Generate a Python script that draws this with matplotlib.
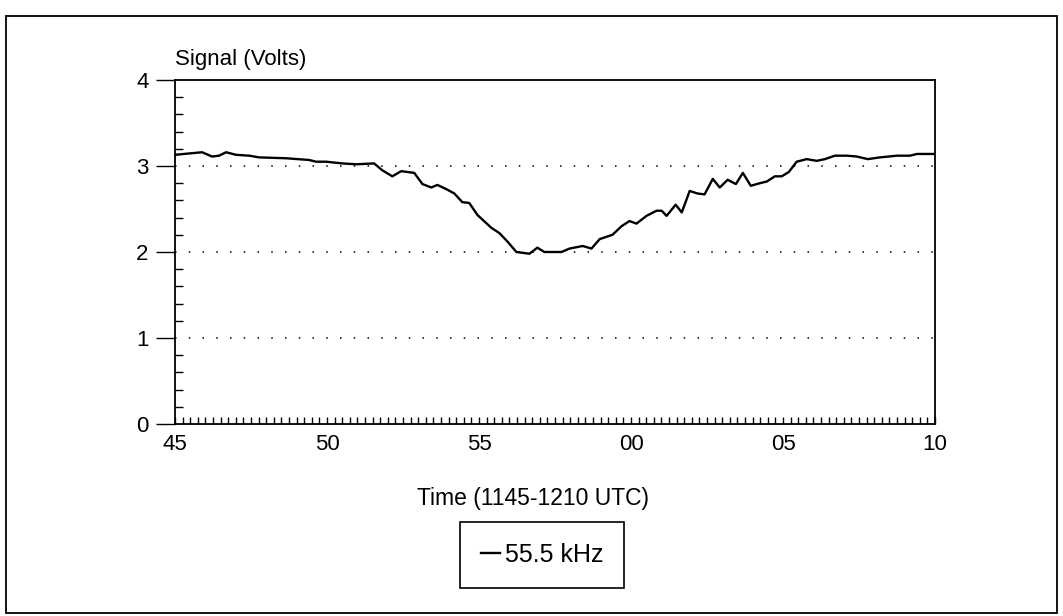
import matplotlib
matplotlib.use("Agg")
import matplotlib.pyplot as plt
from matplotlib.patches import Rectangle
from matplotlib.ticker import MultipleLocator, FixedLocator

# minutes after 11:00 UTC
time_min = [45.0, 45.89, 46.22, 46.45, 46.68, 47.01, 47.44, 47.77, 48.66, 49.41,
            49.64, 49.97, 50.50, 50.96, 51.55, 51.82, 52.15, 52.44, 52.87, 53.14,
            53.43, 53.63, 53.93, 54.19, 54.45, 54.68, 54.95, 55.41, 55.67, 55.94,
            56.23, 56.66, 56.92, 57.15, 57.71, 57.98, 58.41, 58.70, 58.97, 59.39,
            59.69, 59.95, 60.18, 60.51, 60.84, 61.01, 61.17, 61.47, 61.67, 61.93,
            62.19, 62.42, 62.69, 62.92, 63.18, 63.45, 63.68, 63.94, 64.24, 64.47,
            64.73, 64.96, 65.19, 65.45, 65.78, 66.11, 66.38, 66.71, 67.10, 67.43,
            67.79, 68.19, 68.75, 69.18, 69.41, 70.0]
signal_v = [3.13, 3.16, 3.11, 3.12, 3.16, 3.13, 3.12, 3.10, 3.09, 3.07,
            3.05, 3.05, 3.03, 3.02, 3.03, 2.95, 2.88, 2.94, 2.92, 2.79,
            2.75, 2.78, 2.73, 2.68, 2.58, 2.57, 2.43, 2.28, 2.22, 2.12,
            2.00, 1.98, 2.05, 2.00, 2.00, 2.04, 2.07, 2.04, 2.15, 2.20,
            2.30, 2.36, 2.33, 2.42, 2.48, 2.48, 2.42, 2.55, 2.46, 2.71,
            2.68, 2.67, 2.85, 2.75, 2.84, 2.79, 2.92, 2.77, 2.80, 2.82,
            2.88, 2.88, 2.93, 3.05, 3.08, 3.06, 3.08, 3.12, 3.12, 3.11,
            3.08, 3.10, 3.12, 3.12, 3.14, 3.14]

x_ticks = [45, 50, 55, 60, 65, 70]
x_tick_labels = ["45", "50", "55", "00", "05", "10"]
y_ticks = [0, 1, 2, 3, 4]
grid_levels = [1, 2, 3]
series_label = "55.5 kHz"

plt.rcParams['font.family'] = ['Liberation Sans', 'DejaVu Sans']
FS = 16

fig = plt.figure(figsize=(10.63, 6.16), dpi=100)
ax = fig.add_axes([175/1063, 1-424/616, 760/1063, 344/616])

for g in grid_levels:
    ax.axhline(g, color='black', lw=1.1, linestyle=(0, (1, 8)), zorder=1)

ax.plot(time_min, signal_v, color='black', lw=1.7, label=series_label, zorder=3)

ax.set_xlim(45, 70)
ax.set_ylim(0, 4)
ax.xaxis.set_major_locator(FixedLocator(x_ticks))
ax.set_xticklabels(x_tick_labels)
ax.xaxis.set_minor_locator(MultipleLocator(0.25))
ax.yaxis.set_major_locator(FixedLocator(y_ticks))
ax.yaxis.set_minor_locator(MultipleLocator(0.2))

ax.tick_params(axis='y', which='major', direction='out', length=14, width=1,
               labelsize=FS, pad=5)
ax.tick_params(axis='y', which='minor', direction='in', length=6, width=1)
ax.tick_params(axis='x', which='major', direction='in', length=5, width=1,
               labelsize=FS, pad=7)
ax.tick_params(axis='x', which='minor', direction='in', length=5, width=1)
for s in ax.spines.values():
    s.set_linewidth(1.3)

fig.text(533/1063, 1-498/616, "Time (1145-1210 UTC)", fontsize=16.5,
         ha='center', va='center')
fig.text(175/1063, 1-60/616, "Signal (Volts)", fontsize=FS, ha='left', va='center')

leg = fig.legend(loc='center', bbox_to_anchor=(542/1063, 1-555/616), fontsize=18,
                 handlelength=0.75, handletextpad=0.2, borderpad=0.85,
                 borderaxespad=0, fancybox=False, framealpha=1, edgecolor='black')
leg.get_frame().set_linewidth(1.2)

fig.patches.append(Rectangle((6/1063, 1-613/616), 1051/1063, 597/616,
                             transform=fig.transFigure, fill=False,
                             edgecolor='black', lw=1.3))

fig.savefig("out.png", dpi=100)
